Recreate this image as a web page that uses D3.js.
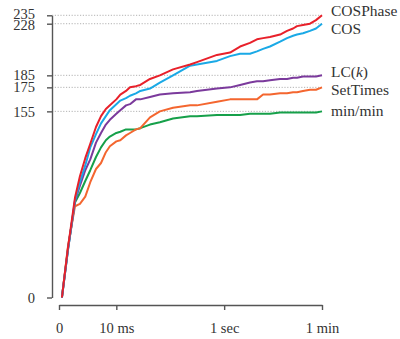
<!DOCTYPE html>
<html>
<head>
<meta charset="utf-8">
<script src="https://cdn.jsdelivr.net/npm/d3@7"></script>
<style>
  body { margin: 0; background: #fff; }
  svg { display: block; }
  text { font-family: "Liberation Serif", "Times New Roman", serif; fill: #333; }
</style>
</head>
<body>
<div id="chart"></div>
<script>
// time in ms, sampled along the curves
var times = [0.13, 0.46, 0.95, 1.4, 2, 2.7, 3.7, 4.8, 6.1, 7.4, 10, 12, 15.5, 18.5, 24, 29, 44, 67,
             117, 240, 320, 740, 1280, 1950, 2950, 3950, 5100, 6800, 10400, 13900, 17900, 21100,
             27100, 36300, 46700, 60000];

var cosPhase = [0, 42, 83, 101, 116, 128, 142, 151, 157, 160, 165, 169, 172, 175, 176, 177, 182, 185,
                190, 194, 196, 202, 204, 209, 212, 215, 216, 217, 219, 222, 224, 226, 227, 228, 231, 235];
var cos      = [0, 40, 81, 96, 110, 125, 136, 145, 151, 156, 161, 164, 166, 168, 170, 172, 174, 179,
                185, 193, 194, 197, 201, 203, 203, 205, 207, 209, 213, 216, 218, 219, 220, 222, 224, 228];
var lck      = [0, 40, 80, 93, 106, 115, 129, 137, 144, 148, 153, 156, 160, 161, 165, 165, 167, 169,
                170, 171, 172, 174, 175, 177, 179, 180, 180, 181, 182, 182, 183, 183, 184, 184, 184, 185];
var setTimes = [0, 43, 76, 78, 84, 96, 107, 112, 121, 126, 130, 131, 135, 137, 140, 141, 150, 155,
                158, 160, 160, 163, 165, 165, 165, 165, 169, 169, 170, 170, 171, 171, 172, 173, 173, 175];
var minMin   = [0, 41, 79, 87, 97, 106, 117, 125, 131, 134, 137, 138, 140, 140, 140, 141, 144, 146,
                149, 151, 151, 152, 152, 152, 153, 153, 153, 153, 154, 154, 154, 154, 154, 154, 154, 155];

var yTicks = [0, 155, 175, 185, 228, 235];
var xTicks = [0, 10, 1000, 60000];
var xTickLabels = ["0", "10 ms", "1 sec", "1 min"];

// drawn bottom first so red ends on top
var series = [
  {name: "min/min",  values: minMin,   color: "#16a04a"},
  {name: "SetTimes", values: setTimes, color: "#f4662f"},
  {name: "LC(k)",    values: lck,      color: "#7b3a9c"},
  {name: "COS",      values: cos,      color: "#1aa9e6"},
  {name: "COSPhase", values: cosPhase, color: "#e8202a"}
];

var width = 400, height = 339;

var svg = d3.select("#chart").append("svg")
    .attr("width", width)
    .attr("height", height);

var x = d3.scaleSymlog().constant(1)
    .domain([0, 60000])
    .range([59, 322]);

var y = d3.scaleLinear()
    .domain([0, 235])
    .range([297.5, 15.3]);

// spread a sorted list of {pos} so neighbours keep at least gap px apart
function spread(items, gap) {
  for (var k = 0; k < 50; k++) {
    for (var i = 1; i < items.length; i++) {
      var d = items[i].pos - items[i - 1].pos;
      if (d < gap) {
        var push = (gap - d) / 2;
        items[i - 1].pos -= push;
        items[i].pos += push;
      }
    }
  }
  return items;
}

// dotted guides
svg.append("g")
  .selectAll("line")
  .data(yTicks.filter(function(d) { return d > 0; }))
  .enter().append("line")
    .attr("x1", 52)
    .attr("x2", x(60000))
    .attr("y1", function(d) { return y(d); })
    .attr("y2", function(d) { return y(d); })
    .attr("stroke", "#aaa")
    .attr("stroke-width", 0.9)
    .attr("stroke-dasharray", "1.2,1.6");

// axes
var yAxis = svg.append("g")
    .attr("transform", "translate(52,0)")
    .call(d3.axisLeft(y).tickValues(yTicks).tickSize(5).tickSizeOuter(0).tickPadding(12));

var xAxis = svg.append("g")
    .attr("transform", "translate(0,305)")
    .call(d3.axisBottom(x).tickValues(xTicks).tickSize(5).tickSizeOuter(0).tickPadding(13)
      .tickFormat(function(d, i) { return xTickLabels[i]; }));

[yAxis, xAxis].forEach(function(a) {
  a.select(".domain").attr("stroke", "#555").attr("stroke-width", 1.4);
  a.selectAll(".tick line").attr("stroke", "#555").attr("stroke-width", 1.4);
  a.selectAll(".tick text")
    .style("font-family", "'Liberation Serif', serif")
    .style("font-size", "14.5px")
    .attr("fill", "#333");
});

// y tick labels that sit too close get nudged apart (235 / 228)
var tickPos = spread(yTicks.slice().reverse().map(function(v) { return {v: v, pos: y(v)}; }), 10.5);
yAxis.selectAll(".tick text")
    .attr("transform", function(d) {
      var p = tickPos.find(function(t) { return t.v == d; });
      return "translate(0," + (p.pos - y(d)) + ")";
    });

// lines
var line = d3.line()
    .x(function(d, i) { return x(times[i]); })
    .y(function(d) { return y(d); });

svg.append("g")
  .selectAll("path")
  .data(series)
  .enter().append("path")
    .attr("d", function(d) { return line(d.values); })
    .attr("fill", "none")
    .attr("stroke", function(d) { return d.color; })
    .attr("stroke-width", 2)
    .attr("stroke-linejoin", "round");

// end labels, nudged apart so they don't collide
var labels = spread(series.map(function(s) {
  return {s: s, pos: y(s.values[s.values.length - 1])};
}).sort(function(a, b) { return a.pos - b.pos; }), 18);

var lab = svg.append("g")
  .selectAll("text")
  .data(labels)
  .enter().append("text")
    .attr("x", 331)
    .attr("y", function(d) { return d.pos; })
    .attr("dy", "0.33em")
    .style("font-size", "15.5px");

lab.each(function(d) {
  var t = d3.select(this);
  if (d.s.name == "LC(k)") {
    t.append("tspan").text("LC(");
    t.append("tspan").style("font-style", "italic").text("k");
    t.append("tspan").text(")");
  } else {
    t.text(d.s.name);
  }
});
</script>
</body>
</html>
